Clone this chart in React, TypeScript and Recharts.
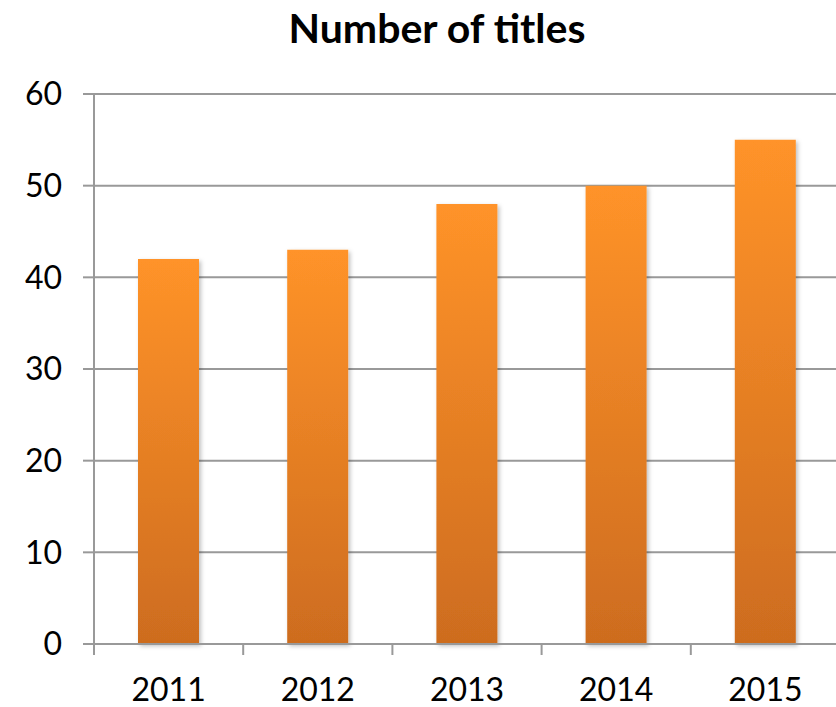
import { BarChart, Bar, XAxis, YAxis, CartesianGrid } from 'recharts';

const years = ['2011', '2012', '2013', '2014', '2015'];
const titleCounts = [42, 43, 48, 50, 55];
const yTicks = [0, 10, 20, 30, 40, 50, 60];

const data = years.map((year, i) => ({ year, count: titleCounts[i] }));

const CHART_W = 845;
const CHART_H = 707;
const LEFT = 94;
const RIGHT_MARGIN = 5;
const PLOT_BOTTOM = 644;
const bandWidth = (CHART_W - LEFT - RIGHT_MARGIN) / years.length;

const fontFamily = 'Lato, "Open Sans", sans-serif';

// Excel-style: tick marks sit between categories, labels at centre
const CategoryTick = (props: any) => {
    const { x, payload } = props;
    const tx = x - bandWidth / 2;
    return (
        <g>
            <line x1={tx} y1={PLOT_BOTTOM} x2={tx} y2={PLOT_BOTTOM + 11} stroke="#999" strokeWidth={2} />
            <text x={x} y={PLOT_BOTTOM + 57} textAnchor="middle" fontSize={32} fill="#000" fontFamily={fontFamily}>
                {payload.value}
            </text>
        </g>
    );
};

const App = () => {
    return (
        <div style={{ position: 'absolute', left: 0, top: 0, width: 836, height: 707, overflow: 'hidden', background: '#fff' }}>
            <div
                style={{
                    position: 'absolute',
                    top: 3,
                    left: 0,
                    width: 874,
                    textAlign: 'center',
                    fontFamily,
                    fontWeight: 700,
                    fontSize: 41,
                    color: '#000',
                    lineHeight: '50px'
                }}
            >
                Number of titles
            </div>
            <BarChart
                width={CHART_W}
                height={CHART_H}
                data={data}
                margin={{ top: 94, right: RIGHT_MARGIN, left: 0, bottom: 0 }}
                barCategoryGap="0%"
                style={{ overflow: 'visible' }}
            >
                <defs>
                    <linearGradient id="barFill" x1="0" y1="0" x2="0" y2="1">
                        <stop offset="0%" stopColor="#FF9329" />
                        <stop offset="100%" stopColor="#CD6C1F" />
                    </linearGradient>
                    <filter id="barShadow" x="-10%" y="-10%" width="130%" height="130%">
                        <feDropShadow dx="2" dy="2" stdDeviation="2" floodColor="#000" floodOpacity="0.25" />
                    </filter>
                </defs>
                <CartesianGrid vertical={false} stroke="#999" strokeWidth={2} />
                <XAxis
                    dataKey="year"
                    axisLine={{ stroke: '#999', strokeWidth: 2 }}
                    tickLine={false}
                    tick={<CategoryTick />}
                    interval={0}
                    height={CHART_H - PLOT_BOTTOM}
                />
                <YAxis
                    domain={[0, 60]}
                    ticks={yTicks}
                    width={LEFT}
                    axisLine={{ stroke: '#999', strokeWidth: 2 }}
                    tickLine={{ stroke: '#999', strokeWidth: 2 }}
                    tickSize={11}
                    tickMargin={21}
                    tick={{ fontSize: 32, fill: '#000', fontFamily }}
                />
                <Bar
                    dataKey="count"
                    fill="url(#barFill)"
                    barSize={61}
                    filter="url(#barShadow)"
                    isAnimationActive={false}
                />
            </BarChart>
        </div>
    );
};

export default App;
